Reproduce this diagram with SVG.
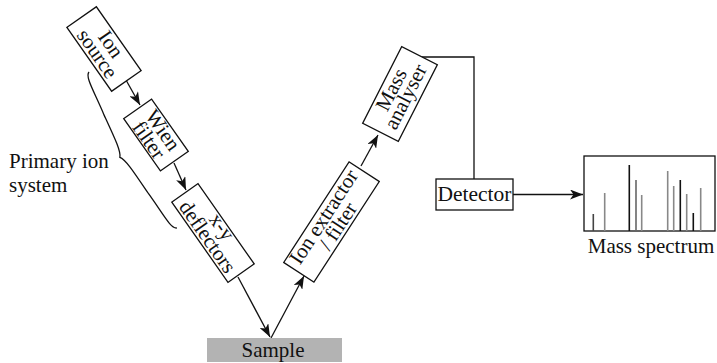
<svg xmlns="http://www.w3.org/2000/svg" width="717" height="363" viewBox="0 0 717 363">
<style>
text{font-family:"Liberation Serif","Times New Roman",serif;font-size:21px;fill:#111}
.box{fill:#fff;stroke:#111;stroke-width:1.3}
.ln{fill:none;stroke:#111;stroke-width:1.3}
.pk{stroke-width:1.6}
</style>
<defs>
<marker id="ah" markerUnits="userSpaceOnUse" markerWidth="14" markerHeight="10" viewBox="0 0 14 10" refX="13" refY="5" orient="auto">
<path d="M0,0 L13,5 L0,10 L3.5,5 Z" fill="#111"/>
</marker>
</defs>
<g id="connectors">
<path class="ln" d="M126,80 L140,105" marker-end="url(#ah)"/>
<path class="ln" d="M174,163 L186,190" marker-end="url(#ah)"/>
<path class="ln" d="M238,277 L270,337" marker-end="url(#ah)"/>
<path class="ln" d="M271,338 L304,276" marker-end="url(#ah)"/>
<path class="ln" d="M361,166 L378,135" marker-end="url(#ah)"/>
<path class="ln" d="M418,57 L474,57 L474,179"/>
<path class="ln" d="M513,194.5 L583,194.5" marker-end="url(#ah)"/>
</g>
<g id="ion-source" transform="translate(104,49) rotate(55)">
<rect class="box" x="-39" y="-18" width="78" height="36"/>
<text text-anchor="middle" x="0" y="-1.5">Ion</text>
<text text-anchor="middle" x="0" y="15">source</text>
</g>
<g id="wien-filter" transform="translate(156,135) rotate(55)">
<rect class="box" x="-32" y="-17" width="64" height="34"/>
<text text-anchor="middle" x="0" y="-1.5">Wien</text>
<text text-anchor="middle" x="0" y="15.5">filter</text>
</g>
<g id="xy-deflectors" transform="translate(213,233) rotate(55)">
<rect class="box" x="-49" y="-16" width="98" height="32"/>
<text text-anchor="middle" x="0" y="-4">x-y</text>
<text text-anchor="middle" x="0" y="13.5">deflectors</text>
</g>
<g id="ion-extractor" transform="translate(331.5,222) rotate(-57)">
<rect class="box" x="-60" y="-18" width="120" height="36"/>
<text text-anchor="middle" x="0" y="-2.5">Ion extractor</text>
<text text-anchor="middle" x="0" y="14.5">/ filter</text>
</g>
<g id="mass-analyser" transform="translate(400,94) rotate(-63)">
<rect class="box" x="-43" y="-20" width="86" height="40"/>
<text text-anchor="middle" x="0" y="-3">Mass</text>
<text text-anchor="middle" x="0" y="13">analyser</text>
</g>
<g id="sample">
<rect x="207" y="338" width="135" height="24" fill="#b3b3b3"/>
<text text-anchor="middle" x="273" y="357">Sample</text>
</g>
<g id="detector">
<rect class="box" x="436" y="179" width="77" height="31"/>
<text text-anchor="middle" x="474.5" y="201" style="font-size:21.5px">Detector</text>
</g>
<g id="mass-spectrum">
<rect class="box" x="584" y="156" width="131" height="75"/>
<line class="pk" x1="593.3" y1="231" x2="593.3" y2="214" stroke="#444"/>
<line class="pk" x1="604.7" y1="231" x2="604.7" y2="193" stroke="#888"/>
<line class="pk" x1="629.3" y1="231" x2="629.3" y2="165" stroke="#111"/>
<line class="pk" x1="636" y1="231" x2="636" y2="180" stroke="#666"/>
<line class="pk" x1="641.7" y1="231" x2="641.7" y2="195" stroke="#888"/>
<line class="pk" x1="667.7" y1="231" x2="667.7" y2="171" stroke="#888"/>
<line class="pk" x1="673.7" y1="231" x2="673.7" y2="186" stroke="#888"/>
<line class="pk" x1="680.3" y1="231" x2="680.3" y2="180" stroke="#111"/>
<line class="pk" x1="686.7" y1="231" x2="686.7" y2="194" stroke="#888"/>
<line class="pk" x1="693.3" y1="231" x2="693.3" y2="213" stroke="#111"/>
<line class="pk" x1="700.7" y1="231" x2="700.7" y2="188" stroke="#888"/>
<text text-anchor="middle" x="651" y="253">Mass spectrum</text>
</g>
<g id="primary-ion-system">
<path class="ln" transform="translate(89,72) rotate(60.6)" d="M0,0 C2,6 20,5 45,8 C70,10 85,11 89.5,15 C94,11 109,10 134,8 C159,5 177,6 179,0"/>
<text x="9" y="168">Primary ion</text>
<text x="9" y="192">system</text>
</g>
</svg>
